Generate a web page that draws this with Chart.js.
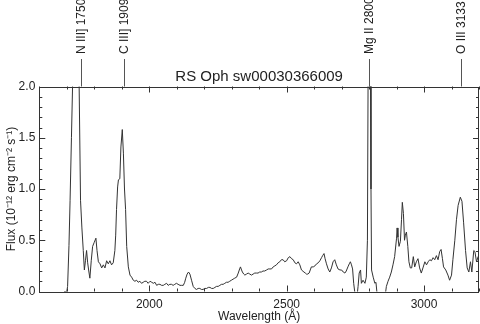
<!DOCTYPE html>
<html>
<head>
<meta charset="utf-8">
<script src="https://cdn.jsdelivr.net/npm/chart.js@4.4.1/dist/chart.umd.min.js"></script>
<style>
  body { margin: 0; background: #fff; }
  #wrap { width: 480px; height: 324px; }
</style>
</head>
<body>
<div id="wrap"><canvas id="spectrumChart"></canvas></div>
<script>
// Spectrum (wavelength in Angstrom, flux in 1e-12 erg/cm2/s)
const wavelength = [
  1690, 1700, 1703, 1708, 1712, 1717, 1721, 1727, 1733, 1739, 1745, 1750, 1755, 1760, 1764, 1768,
  1772, 1776, 1780, 1784, 1789, 1794, 1800, 1806, 1810, 1815, 1821, 1827, 1833, 1839, 1845, 1851,
  1857, 1863, 1869, 1875, 1878, 1881, 1885, 1888, 1893, 1897, 1902, 1906, 1910, 1914, 1918, 1924,
  1930, 1936, 1942, 1948, 1954, 1960, 1966, 1972, 1978, 1984, 1990, 1996, 2003, 2009, 2015, 2021,
  2027, 2033, 2039, 2045, 2051, 2057, 2063, 2069, 2075, 2081, 2087, 2093, 2099, 2105, 2112, 2118,
  2124, 2129, 2133, 2138, 2143, 2148, 2154, 2160, 2166, 2172, 2178, 2184, 2190, 2196, 2202, 2209,
  2215, 2221, 2227, 2233, 2239, 2245, 2251, 2257, 2263, 2269, 2275, 2281, 2287, 2293, 2299, 2305,
  2311, 2318, 2324, 2329, 2332, 2336, 2339, 2344, 2348, 2354, 2360, 2366, 2372, 2378, 2384, 2390,
  2396, 2402, 2408, 2414, 2420, 2427, 2433, 2439, 2445, 2451, 2457, 2463, 2469, 2475, 2481, 2487,
  2493, 2500, 2506, 2512, 2518, 2524, 2530, 2536, 2542, 2548, 2554, 2563, 2568, 2572, 2577, 2582,
  2586, 2590, 2597, 2603, 2609, 2615, 2621, 2627, 2631, 2636, 2640, 2645, 2651, 2657, 2663, 2669,
  2675, 2681, 2687, 2694, 2700, 2706, 2712, 2717, 2723, 2728, 2732, 2736, 2740, 2744, 2750, 2756,
  2760, 2764, 2769, 2772, 2778, 2785, 2790, 2794, 2797, 2800, 2804, 2807, 2809, 2815, 2821, 2825,
  2829, 2840, 2850, 2860, 2863, 2869, 2875, 2881, 2887, 2893, 2900, 2902, 2905, 2909, 2914, 2918,
  2921, 2925, 2929, 2932, 2936, 2941, 2945, 2950, 2955, 2961, 2966, 2972, 2978, 2984, 2990, 2996,
  3003, 3009, 3015, 3021, 3027, 3033, 3039, 3045, 3051, 3057, 3062, 3067, 3071, 3079, 3087, 3093,
  3100, 3105, 3112, 3118, 3124, 3132, 3138, 3144, 3151, 3157, 3163, 3169, 3174, 3181, 3185, 3191,
  3197, 3203
];
const flux = [
  0, 0, 0.05, 0.45, 0.89, 1.5, 2.0, 3.0, 3.6, 3.0, 2.0, 0.89, 0.62, 0.40, 0.21, 0.30,
  0.40, 0.28, 0.20, 0.13, 0.30, 0.44, 0.48, 0.52, 0.40, 0.29, 0.27, 0.23, 0.26, 0.23, 0.30, 0.27,
  0.30, 0.26, 0.28, 0.40, 0.55, 0.80, 1.02, 1.09, 1.10, 1.41, 1.58, 1.35, 1.00, 0.80, 0.44, 0.24,
  0.16, 0.14, 0.11, 0.10, 0.11, 0.09, 0.10, 0.08, 0.09, 0.10, 0.10, 0.08, 0.10, 0.09, 0.08, 0.09,
  0.06, 0.07, 0.07, 0.06, 0.06, 0.07, 0.08, 0.06, 0.07, 0.07, 0.06, 0.07, 0.08, 0.07, 0.06, 0.06,
  0.06, 0.09, 0.13, 0.17, 0.19, 0.17, 0.11, 0.05, 0.03, 0.02, 0.03, 0.03, 0.02, 0.02, 0.03, 0.03,
  0.04, 0.04, 0.03, 0.03, 0.04, 0.05, 0.05, 0.06, 0.07, 0.07, 0.08, 0.09, 0.09, 0.10, 0.11, 0.12,
  0.13, 0.14, 0.18, 0.22, 0.24, 0.21, 0.19, 0.17, 0.16, 0.17, 0.18, 0.17, 0.16, 0.17, 0.18, 0.18,
  0.18, 0.19, 0.19, 0.20, 0.20, 0.21, 0.22, 0.22, 0.22, 0.24, 0.25, 0.26, 0.28, 0.29, 0.31, 0.31,
  0.29, 0.30, 0.33, 0.34, 0.32, 0.31, 0.28, 0.27, 0.29, 0.26, 0.21, 0.19, 0.18, 0.17, 0.17, 0.18,
  0.21, 0.24, 0.24, 0.25, 0.27, 0.28, 0.30, 0.33, 0.35, 0.37, 0.32, 0.27, 0.22, 0.19, 0.23, 0.29,
  0.31, 0.26, 0.22, 0.21, 0.21, 0.19, 0.18, 0.20, 0.24, 0.27, 0.29, 0.26, 0.22, 0.08, -0.05, -0.05,
  0.05, 0.18, 0.21, 0.08, 0.11, 0.08, 0.14, 0.50, 2.5, 4.0, 3.0, 1.0, 0.21, 0.14, 0.08, 0.09,
  -0.02, -0.15, -0.15, -0.01, 0.05, 0.10, 0.14, 0.19, 0.26, 0.34, 0.52, 0.62, 0.53, 0.44, 0.49, 0.70,
  0.87, 0.76, 0.50, 0.55, 0.58, 0.44, 0.29, 0.23, 0.23, 0.34, 0.24, 0.29, 0.32, 0.23, 0.18, 0.23,
  0.29, 0.26, 0.29, 0.31, 0.30, 0.33, 0.31, 0.35, 0.31, 0.39, 0.41, 0.32, 0.24, 0.21, 0.16, 0.11,
  0.16, 0.31, 0.50, 0.70, 0.84, 0.92, 0.88, 0.67, 0.40, 0.23, 0.19, 0.29, 0.19, 0.40, 0.39, 0.29,
  0.34, 0.27
];

// Tick labels
const xTickValues = [2000, 2500, 3000];
const yTickValues = [0, 0.5, 1.0, 1.5, 2.0];

// Emission line markers along the top
const lineNames = ['N III] 1750', 'C III] 1909', 'Mg II 2800', 'O III 3133'];
const lineWavelengths = [1750, 1909, 2800, 3133];

const chartTitle = 'RS Oph sw00030366009';

Chart.defaults.font.family = "'Liberation Sans', Arial, Helvetica, sans-serif";
Chart.defaults.font.size = 12;
Chart.defaults.color = '#222';

// IDL-style box: frame, inward ticks on all sides, title and line labels
const boxPlugin = {
    id: 'idlBox',
    afterDraw(chart) {
        const ctx = chart.ctx;
        const a = chart.chartArea;
        const x = chart.scales.x;
        const y = chart.scales.y;

        ctx.save();
        ctx.strokeStyle = '#333';
        ctx.lineWidth = 1;
        ctx.strokeRect(Math.round(a.left) + 0.5, Math.round(a.top) + 0.5,
            Math.round(a.right - a.left) - 1, Math.round(a.bottom - a.top));

        ctx.beginPath();
        for (let v = Math.ceil(x.min / 100) * 100; v <= x.max; v += 100) {
            const px = Math.round(x.getPixelForValue(v)) + 0.5;
            const len = v % 500 === 0 ? 6 : 3;
            ctx.moveTo(px, a.bottom); ctx.lineTo(px, a.bottom - len);
            ctx.moveTo(px, a.top); ctx.lineTo(px, a.top + len);
        }
        for (let i = 0; i <= 20; i++) {
            const v = i / 10;
            const py = Math.round(y.getPixelForValue(v)) + 0.5;
            const len = i % 5 === 0 ? 6 : 3;
            ctx.moveTo(a.left, py); ctx.lineTo(a.left + len, py);
            ctx.moveTo(a.right, py); ctx.lineTo(a.right - len, py);
        }
        ctx.stroke();

        // title
        ctx.fillStyle = '#222';
        ctx.font = "15px 'Liberation Sans', Arial, sans-serif";
        ctx.textAlign = 'center';
        ctx.textBaseline = 'alphabetic';
        ctx.fillText(chartTitle, (a.left + a.right) / 2, 81);

        // line markers
        ctx.font = "12px 'Liberation Sans', Arial, sans-serif";
        ctx.strokeStyle = '#555';
        lineNames.forEach((name, i) => {
            const px = Math.round(x.getPixelForValue(lineWavelengths[i])) + 0.5;
            ctx.beginPath();
            ctx.moveTo(px, 59);
            ctx.lineTo(px, a.top);
            ctx.stroke();
            ctx.save();
            ctx.translate(px, 54);
            ctx.rotate(-Math.PI / 2);
            ctx.textAlign = 'left';
            ctx.textBaseline = 'middle';
            ctx.fillText(name, 0, 0);
            ctx.restore();
        });
        ctx.restore();
    }
};

new Chart(document.getElementById('spectrumChart'), {
    type: 'line',
    data: {
        datasets: [{
            data: wavelength.map((w, i) => ({ x: w, y: flux[i] })),
            borderColor: '#333',
            borderWidth: 1,
            pointRadius: 0,
            tension: 0,
            fill: false
        }]
    },
    options: {
        responsive: true,
        maintainAspectRatio: false,
        animation: false,
        events: [],
        layout: { padding: { top: 86.5, right: 1, left: 0, bottom: 0 } },
        plugins: {
            legend: { display: false },
            tooltip: { enabled: false }
        },
        scales: {
            x: {
                type: 'linear',
                min: 1600,
                max: 3200,
                grid: { display: false, drawTicks: false },
                border: { display: false },
                afterBuildTicks: function(scale) {
                    scale.ticks = xTickValues.map(v => ({ value: v }));
                },
                afterFit: function(scale) { scale.height = 32.5; },
                ticks: {
                    padding: 6,
                    maxRotation: 0,
                    callback: function(value) { return String(value); }
                },
                title: {
                    display: true,
                    text: 'Wavelength (Å)',
                    padding: { top: 0, bottom: 0 }
                }
            },
            y: {
                min: 0,
                max: 2,
                grid: { display: false, drawTicks: false },
                border: { display: false },
                afterBuildTicks: function(scale) {
                    scale.ticks = yTickValues.map(v => ({ value: v }));
                },
                afterFit: function(scale) { scale.width = 39.3; },
                ticks: {
                    padding: 4,
                    callback: function(value) { return value.toFixed(1); }
                },
                title: {
                    display: true,
                    text: 'Flux (10⁻¹² erg cm⁻² s⁻¹)',
                    padding: { top: 4, bottom: 0 }
                }
            }
        }
    },
    plugins: [boxPlugin]
});
</script>
</body>
</html>
